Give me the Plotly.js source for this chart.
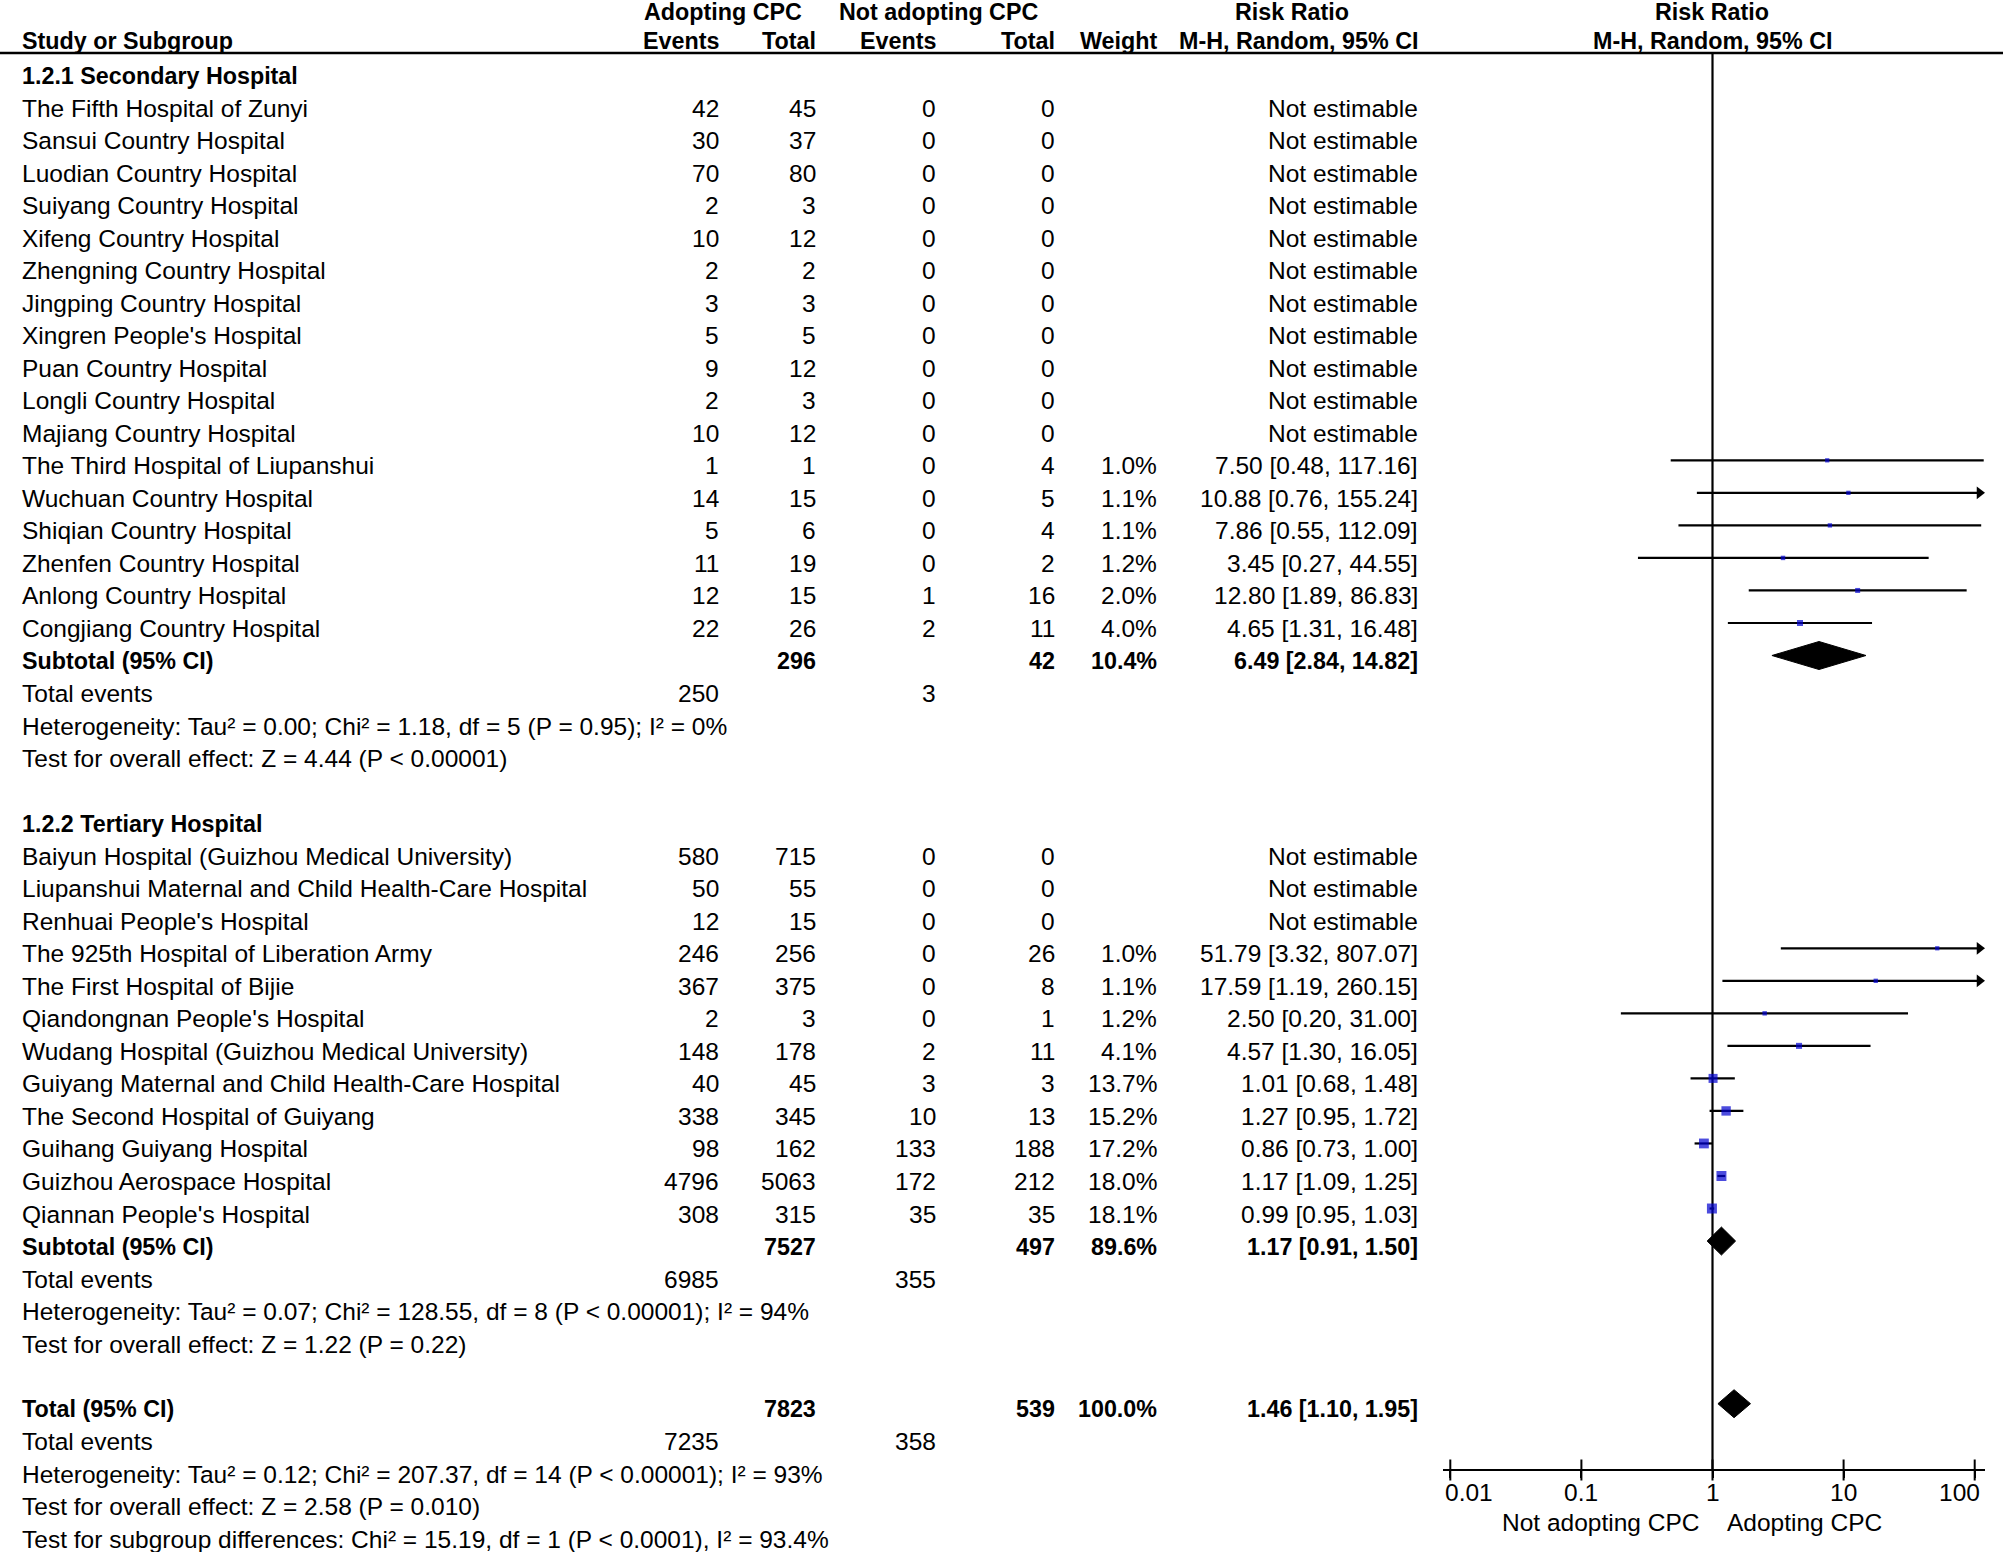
<!DOCTYPE html>
<html><head><meta charset="utf-8">
<script src="https://cdn.plot.ly/plotly-3.0.1.min.js"></script>
<style>html,body{margin:0;padding:0;background:#fff}#chart{width:2008px;height:1552px}</style>
</head><body><div id="chart"></div>
<script>
// ---------------- DATA ----------------
const secTitle = '1.2.1 Secondary Hospital';
const secNames = ['The Fifth Hospital of Zunyi','Sansui Country Hospital','Luodian Country Hospital','Suiyang Country Hospital','Xifeng Country Hospital','Zhengning Country Hospital','Jingping Country Hospital',"Xingren People's Hospital",'Puan Country Hospital','Longli Country Hospital','Majiang Country Hospital','The Third Hospital of Liupanshui','Wuchuan Country Hospital','Shiqian Country Hospital','Zhenfen Country Hospital','Anlong Country Hospital','Congjiang Country Hospital'];
const secEventsA = [42,30,70,2,10,2,3,5,9,2,10,1,14,5,11,12,22];
const secTotalA  = [45,37,80,3,12,2,3,5,12,3,12,1,15,6,19,15,26];
const secEventsN = [0,0,0,0,0,0,0,0,0,0,0,0,0,0,0,1,2];
const secTotalN  = [0,0,0,0,0,0,0,0,0,0,0,4,5,4,2,16,11];
const secWeight  = [null,null,null,null,null,null,null,null,null,null,null,1.0,1.1,1.1,1.2,2.0,4.0];
const secRR      = [null,null,null,null,null,null,null,null,null,null,null,7.50,10.88,7.86,3.45,12.80,4.65];
const secLo      = [null,null,null,null,null,null,null,null,null,null,null,0.48,0.76,0.55,0.27,1.89,1.31];
const secHi      = [null,null,null,null,null,null,null,null,null,null,null,117.16,155.24,112.09,44.55,86.83,16.48];
const secSubtotal = {totalA:296, totalN:42, weight:10.4, rr:6.49, lo:2.84, hi:14.82, eventsA:250, eventsN:3};
const secHet  = 'Heterogeneity: Tau² = 0.00; Chi² = 1.18, df = 5 (P = 0.95); I² = 0%';
const secTest = 'Test for overall effect: Z = 4.44 (P &lt; 0.00001)';

const terTitle = '1.2.2 Tertiary Hospital';
const terNames = ['Baiyun Hospital (Guizhou Medical University)','Liupanshui Maternal and Child Health-Care Hospital',"Renhuai People's Hospital",'The 925th Hospital of Liberation Army','The First Hospital of Bijie',"Qiandongnan People's Hospital",'Wudang Hospital (Guizhou Medical University)','Guiyang Maternal and Child Health-Care Hospital','The Second Hospital of Guiyang','Guihang Guiyang Hospital','Guizhou Aerospace Hospital',"Qiannan People's Hospital"];
const terEventsA = [580,50,12,246,367,2,148,40,338,98,4796,308];
const terTotalA  = [715,55,15,256,375,3,178,45,345,162,5063,315];
const terEventsN = [0,0,0,0,0,0,2,3,10,133,172,35];
const terTotalN  = [0,0,0,26,8,1,11,3,13,188,212,35];
const terWeight  = [null,null,null,1.0,1.1,1.2,4.1,13.7,15.2,17.2,18.0,18.1];
const terRR      = [null,null,null,51.79,17.59,2.50,4.57,1.01,1.27,0.86,1.17,0.99];
const terLo      = [null,null,null,3.32,1.19,0.20,1.30,0.68,0.95,0.73,1.09,0.95];
const terHi      = [null,null,null,807.07,260.15,31.00,16.05,1.48,1.72,1.00,1.25,1.03];
const terSubtotal = {totalA:7527, totalN:497, weight:89.6, rr:1.17, lo:0.91, hi:1.50, eventsA:6985, eventsN:355};
const terHet  = 'Heterogeneity: Tau² = 0.07; Chi² = 128.55, df = 8 (P &lt; 0.00001); I² = 94%';
const terTest = 'Test for overall effect: Z = 1.22 (P = 0.22)';

const overall = {totalA:7823, totalN:539, weight:100.0, rr:1.46, lo:1.10, hi:1.95, eventsA:7235, eventsN:358};
const overallHet  = 'Heterogeneity: Tau² = 0.12; Chi² = 207.37, df = 14 (P &lt; 0.00001); I² = 93%';
const overallTest = 'Test for overall effect: Z = 2.58 (P = 0.010)';
const subgroupTest = 'Test for subgroup differences: Chi² = 15.19, df = 1 (P &lt; 0.0001), I² = 93.4%';

const tickVals = [0.01, 0.1, 1, 10, 100];
const tickText = ['0.01', '0.1', '1', '10', '100'];
const favoursLeft = 'Not adopting CPC';
const favoursRight = 'Adopting CPC';

// ---------------- LAYOUT CONSTANTS ----------------
const W = 2008, H = 1552;
const FONT = '"Liberation Sans", Arial, sans-serif';
const FS = 24.5, FSB = 23.3;
const ROW0 = 75.5, ROWH = 32.53;            // pixel centre of row 0, row pitch
const pxRow = py => (py - ROW0) / ROWH;
const MARK_DY = -0.17;                      // marks sit slightly above text centre
const X_NAME = 20, X_EVA = 721, X_TOTA = 818, X_EVN = 938, X_TOTN = 1057, X_W = 1159, X_RR = 1420;
const LOG0_PX = 1712.5, DEC_PX = 131.1;     // x=1 pixel, pixels per decade
const AX_L = 1443, AX_R = 1985, AX_Y = 1470;
const pxLog = p => (p - LOG0_PX) / DEC_PX;
const ARROW_LIMIT = 120;
const ARROW_POS = Math.pow(10, pxLog(1979.5));
const DIAMOND_HALF = 0.43;
const BLUE = '#0000D0';

const annotations = [];
function txt(text, xPx, row, anchor, bold) {
  annotations.push({
    text: bold ? '<b>' + text + '</b>' : text,
    x: xPx / W, xref: 'paper', y: row, yref: 'y',
    xanchor: anchor, yanchor: 'middle', showarrow: false,
    font: {family: FONT, size: bold ? FSB : FS, color: '#000'}
  });
}
const fmtRR = (rr, lo, hi) => rr.toFixed(2) + ' [' + lo.toFixed(2) + ', ' + hi.toFixed(2) + ']';

// marks collections
const ciX = [], ciY = [], sqX = [], sqY = [], sqS = [], arX = [], arY = [];
const diamonds = [];

// headers
const hRow1 = pxRow(12), hRow2 = pxRow(41);
txt('Adopting CPC', 723, hRow1, 'center', true);
txt('Not adopting CPC', 938, hRow1, 'center', true);
txt('Risk Ratio', 1292, hRow1, 'center', true);
txt('Risk Ratio', 1712, hRow1, 'center', true);
txt('Study or Subgroup', X_NAME, hRow2, 'left', true);
txt('Events', X_EVA, hRow2, 'right', true);
txt('Total', X_TOTA, hRow2, 'right', true);
txt('Events', X_EVN, hRow2, 'right', true);
txt('Total', X_TOTN, hRow2, 'right', true);
txt('Weight', X_W, hRow2, 'right', true);
txt('M-H, Random, 95% CI', X_RR, hRow2, 'right', true);
txt('M-H, Random, 95% CI', 1712, hRow2, 'center', true);

let r = 0;
function group(title, names, evA, totA, evN, totN, wt, rr, lo, hi, sub, het, test) {
  txt(title, X_NAME, r, 'left', true); r++;
  for (let i = 0; i < names.length; i++) {
    txt(names[i], X_NAME, r, 'left');
    txt(String(evA[i]), X_EVA, r, 'right');
    txt(String(totA[i]), X_TOTA, r, 'right');
    txt(String(evN[i]), X_EVN, r, 'right');
    txt(String(totN[i]), X_TOTN, r, 'right');
    if (rr[i] === null) {
      txt('Not estimable', X_RR, r, 'right');
    } else {
      txt(wt[i].toFixed(1) + '%', X_W, r, 'right');
      txt(fmtRR(rr[i], lo[i], hi[i]), X_RR, r, 'right');
      const ym = r + MARK_DY;
      const hiDraw = hi[i] > ARROW_LIMIT ? ARROW_POS : hi[i];
      ciX.push(lo[i], hiDraw, null); ciY.push(ym, ym, null);
      if (hi[i] > ARROW_LIMIT) { arX.push(ARROW_POS); arY.push(ym); }
      sqX.push(rr[i]); sqY.push(ym); sqS.push(2.5 + 7.5 * Math.sqrt(wt[i] / 18.1));
    }
    r++;
  }
  txt('Subtotal (95% CI)', X_NAME, r, 'left', true);
  txt(String(sub.totalA), X_TOTA, r, 'right', true);
  txt(String(sub.totalN), X_TOTN, r, 'right', true);
  txt(sub.weight.toFixed(1) + '%', X_W, r, 'right', true);
  txt(fmtRR(sub.rr, sub.lo, sub.hi), X_RR, r, 'right', true);
  diamonds.push({rr: sub.rr, lo: sub.lo, hi: sub.hi, y: r + MARK_DY});
  r++;
  txt('Total events', X_NAME, r, 'left');
  txt(String(sub.eventsA), X_EVA, r, 'right');
  txt(String(sub.eventsN), X_EVN, r, 'right');
  r++;
  txt(het, X_NAME, r, 'left'); r++;
  txt(test, X_NAME, r, 'left'); r++;
  r++; // blank
}
group(secTitle, secNames, secEventsA, secTotalA, secEventsN, secTotalN, secWeight, secRR, secLo, secHi, secSubtotal, secHet, secTest);
group(terTitle, terNames, terEventsA, terTotalA, terEventsN, terTotalN, terWeight, terRR, terLo, terHi, terSubtotal, terHet, terTest);

txt('Total (95% CI)', X_NAME, r, 'left', true);
txt(String(overall.totalA), X_TOTA, r, 'right', true);
txt(String(overall.totalN), X_TOTN, r, 'right', true);
txt(overall.weight.toFixed(1) + '%', X_W, r, 'right', true);
txt(fmtRR(overall.rr, overall.lo, overall.hi), X_RR, r, 'right', true);
diamonds.push({rr: overall.rr, lo: overall.lo, hi: overall.hi, y: r + MARK_DY});
r++;
txt('Total events', X_NAME, r, 'left');
txt(String(overall.eventsA), X_EVA, r, 'right');
txt(String(overall.eventsN), X_EVN, r, 'right');
r++;
txt(overallHet, X_NAME, r, 'left'); r++;
txt(overallTest, X_NAME, r, 'left'); r++;
txt(subgroupTest, X_NAME, r, 'left'); r++;

// favours labels
txt(favoursLeft, 1701, pxRow(1522), 'right');
txt(favoursRight, 1725, pxRow(1522), 'left');

// axis tick labels (end labels kept inside the axis line, as in RevMan)
const tickRow = pxRow(1492);
tickVals.forEach((v, i) => {
  const last = tickVals.length - 1;
  const a = {
    text: tickText[i], y: tickRow, yref: 'y', yanchor: 'middle', showarrow: false,
    font: {family: FONT, size: FS, color: '#000'}
  };
  if (i === 0) { a.xref = 'paper'; a.x = AX_L / W; a.xanchor = 'left'; }
  else if (i === last) { a.xref = 'paper'; a.x = (AX_R - 3) / W; a.xanchor = 'right'; }
  else { a.xref = 'x'; a.x = Math.log10(v); a.xanchor = 'center'; }
  annotations.push(a);
});

const axisRow = pxRow(AX_Y);
const lineTopRow = pxRow(53);

const traces = [];
// vertical line of no effect
traces.push({x: [1, 1], y: [lineTopRow, axisRow], mode: 'lines', line: {color: '#000', width: 2.2}, hoverinfo: 'skip', showlegend: false});
// CI lines
traces.push({x: ciX, y: ciY, mode: 'lines', line: {color: '#000', width: 2.2}, connectgaps: false, hoverinfo: 'skip', showlegend: false});
// arrows
traces.push({x: arX, y: arY, mode: 'markers', marker: {symbol: 'triangle-right', size: 11, color: '#000'}, cliponaxis: false, hoverinfo: 'skip', showlegend: false});
// squares
traces.push({x: sqX, y: sqY, mode: 'markers', marker: {symbol: 'square', size: sqS, color: BLUE, line: {width: 0}}, cliponaxis: false, hoverinfo: 'skip', showlegend: false});
// diamonds
diamonds.forEach(d => {
  traces.push({
    x: [d.lo, d.rr, d.hi, d.rr, d.lo],
    y: [d.y, d.y - DIAMOND_HALF, d.y, d.y + DIAMOND_HALF, d.y],
    mode: 'lines', fill: 'toself', fillcolor: '#000', line: {color: '#000', width: 1},
    hoverinfo: 'skip', showlegend: false
  });
});
// crossing tick marks
traces.push({x: tickVals, y: tickVals.map(() => axisRow), mode: 'markers', marker: {symbol: 'line-ns', size: 15, line: {width: 2, color: '#000'}}, cliponaxis: false, hoverinfo: 'skip', showlegend: false});

const layout = {
  width: W, height: H,
  margin: {l: 0, r: 0, t: 0, b: 0, pad: 0},
  paper_bgcolor: '#fff', plot_bgcolor: 'rgba(0,0,0,0)',
  showlegend: false,
  font: {family: FONT, size: FS, color: '#000'},
  xaxis: {
    type: 'log', domain: [AX_L / W, AX_R / W], range: [pxLog(AX_L), pxLog(AX_R)],
    anchor: 'free', position: (H - AX_Y) / H,
    showline: true, linecolor: '#000', linewidth: 2,
    ticks: 'outside', ticklen: 7, tickwidth: 2, tickcolor: '#000',
    tickvals: tickVals, showticklabels: false,
    showgrid: false, zeroline: false, fixedrange: true
  },
  yaxis: {
    domain: [0, 1], range: [pxRow(H), pxRow(0)],
    visible: false, showgrid: false, zeroline: false, fixedrange: true
  },
  shapes: [{
    type: 'line', xref: 'paper', x0: 0, x1: 2003 / W,
    yref: 'y', y0: lineTopRow, y1: lineTopRow,
    line: {color: '#000', width: 2.5}
  }],
  annotations: annotations
};

Plotly.newPlot('chart', traces, layout, {staticPlot: true, displayModeBar: false});
</script>
</body></html>
